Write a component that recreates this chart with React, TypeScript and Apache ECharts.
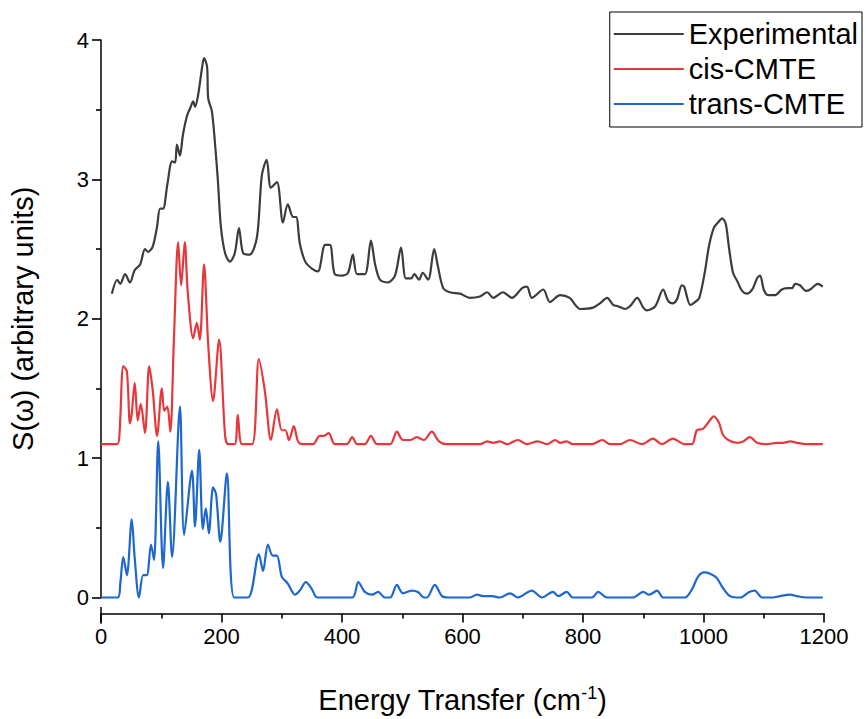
import React, { useEffect, useRef } from "react";
import * as echarts from "echarts";

const FONT = "'Liberation Sans', Arial, sans-serif";

const seriesNames = ["Experimental", "cis-CMTE", "trans-CMTE"];
const seriesColors = ["#3c3c3c", "#e8373a", "#1e66d0"];

const xTickValues = [0, 200, 400, 600, 800, 1000, 1200];

const expX = [18, 27, 32, 40, 48, 56, 65, 73, 78, 86, 93, 98, 103, 110, 118, 123, 126, 131, 136, 143, 148, 153, 156, 161, 168, 171, 176, 178, 184, 189, 194, 199, 206, 214, 222, 229, 236, 247, 259, 267, 275, 282, 292, 302, 310, 319, 324, 330, 339, 350, 360, 372, 380, 388, 400, 410, 418, 425, 438, 448, 455, 463, 476, 488, 498, 506, 515, 520, 528, 534, 543, 553, 559, 568, 579, 596, 612, 629, 641, 651, 667, 682, 699, 707, 715, 734, 745, 762, 778, 787, 795, 817, 828, 840, 850, 858, 870, 878, 890, 900, 906, 920, 933, 941, 949, 956, 964, 968, 978, 986, 993, 1002, 1009, 1017, 1024, 1031, 1037, 1042, 1049, 1056, 1064, 1072, 1081, 1089, 1094, 1100, 1107, 1119, 1130, 1139, 1147, 1152, 1160, 1170, 1177, 1190, 1198];
const expY = [2.18, 2.28, 2.25, 2.32, 2.26, 2.35, 2.39, 2.5, 2.48, 2.52, 2.66, 2.79, 2.79, 2.96, 3.13, 3.12, 3.25, 3.17, 3.32, 3.46, 3.51, 3.56, 3.52, 3.6, 3.81, 3.87, 3.81, 3.58, 3.49, 3.27, 2.99, 2.66, 2.47, 2.41, 2.47, 2.65, 2.47, 2.46, 2.59, 3.03, 3.14, 2.94, 2.98, 2.69, 2.82, 2.73, 2.73, 2.54, 2.41, 2.36, 2.34, 2.53, 2.53, 2.32, 2.31, 2.33, 2.46, 2.32, 2.32, 2.56, 2.39, 2.28, 2.26, 2.31, 2.51, 2.29, 2.29, 2.32, 2.28, 2.33, 2.28, 2.5, 2.38, 2.22, 2.19, 2.18, 2.15, 2.16, 2.19, 2.15, 2.19, 2.15, 2.22, 2.23, 2.15, 2.21, 2.12, 2.17, 2.15, 2.1, 2.07, 2.08, 2.11, 2.15, 2.1, 2.09, 2.07, 2.09, 2.15, 2.08, 2.06, 2.09, 2.21, 2.13, 2.11, 2.14, 2.24, 2.23, 2.1, 2.12, 2.15, 2.33, 2.52, 2.65, 2.69, 2.72, 2.68, 2.52, 2.33, 2.27, 2.2, 2.18, 2.21, 2.29, 2.31, 2.21, 2.17, 2.17, 2.21, 2.22, 2.22, 2.25, 2.24, 2.2, 2.21, 2.25, 2.23];

const cisX = [0, 27, 31, 37, 43, 48, 51, 56, 61, 66, 73, 80, 86, 93, 101, 105, 110, 115, 121, 128, 133, 139, 144, 153, 159, 164, 171, 178, 186, 196, 206, 211, 222, 227, 234, 251, 262, 272, 282, 292, 300, 306, 312, 320, 327, 334, 352, 363, 370, 378, 388, 408, 417, 425, 438, 448, 458, 480, 491, 501, 513, 524, 536, 549, 561, 574, 629, 641, 651, 662, 674, 692, 707, 725, 740, 754, 762, 773, 783, 815, 832, 845, 861, 878, 898, 916, 931, 949, 969, 981, 989, 999, 1007, 1017, 1026, 1032, 1041, 1056, 1066, 1077, 1089, 1105, 1122, 1132, 1144, 1155, 1172, 1198];
const cisY = [1.1, 1.1, 1.2, 1.66, 1.62, 1.25, 1.32, 1.54, 1.27, 1.39, 1.18, 1.66, 1.48, 1.16, 1.5, 1.34, 1.37, 1.19, 1.85, 2.55, 2.24, 2.55, 2.19, 1.86, 1.97, 1.85, 2.39, 1.81, 1.41, 1.85, 1.16, 1.1, 1.1, 1.31, 1.1, 1.1, 1.71, 1.48, 1.13, 1.35, 1.2, 1.2, 1.13, 1.23, 1.12, 1.1, 1.1, 1.16, 1.16, 1.18, 1.1, 1.1, 1.15, 1.1, 1.1, 1.16, 1.1, 1.1, 1.19, 1.13, 1.13, 1.15, 1.13, 1.19, 1.12, 1.1, 1.1, 1.12, 1.11, 1.12, 1.1, 1.13, 1.1, 1.12, 1.1, 1.13, 1.11, 1.12, 1.1, 1.1, 1.13, 1.1, 1.1, 1.13, 1.1, 1.14, 1.1, 1.14, 1.1, 1.1, 1.2, 1.21, 1.25, 1.3, 1.25, 1.17, 1.13, 1.11, 1.12, 1.15, 1.11, 1.1, 1.11, 1.11, 1.12, 1.11, 1.1, 1.1];

const transX = [0, 28, 32, 37, 43, 51, 56, 63, 70, 76, 83, 88, 95, 103, 111, 118, 131, 138, 151, 156, 163, 169, 174, 179, 186, 191, 198, 209, 221, 244, 262, 269, 277, 285, 292, 300, 310, 322, 330, 340, 350, 359, 417, 427, 438, 450, 460, 471, 480, 491, 501, 516, 526, 536, 541, 554, 566, 576, 612, 624, 634, 649, 662, 679, 692, 715, 732, 750, 759, 773, 783, 815, 825, 840, 883, 900, 910, 923, 933, 969, 981, 991, 1001, 1011, 1022, 1032, 1044, 1061, 1076, 1085, 1097, 1115, 1127, 1144, 1155, 1172, 1198];
const transY = [0, 0, 0.1, 0.29, 0.16, 0.56, 0.28, 0, 0.16, 0.16, 0.38, 0.27, 1.12, 0.21, 0.83, 0.29, 1.37, 0.45, 0.91, 0.51, 1.06, 0.49, 0.64, 0.46, 0.79, 0.74, 0.4, 0.89, 0, 0, 0.31, 0.19, 0.38, 0.3, 0.3, 0.15, 0.1, 0.02, 0.05, 0.11, 0.06, 0, 0, 0.11, 0.04, 0.02, 0.04, 0, 0, 0.09, 0.03, 0.05, 0.04, 0, 0, 0.09, 0.01, 0, 0, 0.02, 0.01, 0.01, 0, 0.03, 0, 0.05, 0, 0.04, 0.01, 0.04, 0, 0, 0.04, 0, 0, 0.04, 0.02, 0.05, 0, 0, 0.06, 0.15, 0.18, 0.17, 0.14, 0.07, 0.01, 0, 0.04, 0.05, 0, 0, 0.01, 0.02, 0.01, 0, 0];

const zip = (xs: number[], ys: number[]) => xs.map((x, i) => [x, ys[i]]);

const GRID_LEFT = 101;
const GRID_BOTTOM = 112;
const X_AXIS_OFFSET = 16;

export default function App() {
  const ref = useRef<HTMLDivElement>(null);
  useEffect(() => {
    document.body.style.margin = "0";
    const chart = echarts.init(ref.current!, null, { renderer: "svg" });
    const datasets = [zip(expX, expY), zip(cisX, cisY), zip(transX, transY)];
    const H = 719;
    const tickStyle = { color: "#000", width: 1.6 };
    chart.setOption({
      animation: false,
      backgroundColor: "#fff",
      textStyle: { fontFamily: FONT },
      grid: { left: GRID_LEFT, right: 42, top: 40, bottom: GRID_BOTTOM, containLabel: false },
      graphic: [
        {
          type: "line",
          shape: { x1: GRID_LEFT, y1: H - GRID_BOTTOM, x2: GRID_LEFT, y2: H - GRID_BOTTOM + X_AXIS_OFFSET + 0.75 },
          style: { stroke: "#000", lineWidth: 1.5 },
          silent: true,
        },
      ],
      legend: {
        orient: "vertical",
        right: 4,
        top: 12,
        icon: "rect",
        itemWidth: 70,
        itemHeight: 2,
        itemGap: 1,
        padding: [5, 4, 6, 4],
        borderColor: "#000",
        borderWidth: 1,
        borderRadius: 0,
        textStyle: { fontSize: 29, color: "#000", fontFamily: FONT, lineHeight: 34 },
        data: seriesNames,
      },
      xAxis: {
        type: "value",
        min: 0,
        max: 1200,
        interval: 200,
        offset: X_AXIS_OFFSET,
        axisLine: { onZero: false, lineStyle: { color: "#000", width: 1.5 } },
        axisTick: { length: 9, lineStyle: tickStyle },
        minorTick: { show: true, splitNumber: 2, length: 5, lineStyle: tickStyle },
        splitLine: { show: false },
        minorSplitLine: { show: false },
        axisLabel: { fontSize: 22, color: "#000", margin: 12, fontFamily: FONT, customValues: xTickValues, formatter: (v: number) => String(v) },
        name: "{a|Energy Transfer (cm}{s|-1}{a|)}",
        nameLocation: "middle",
        nameGap: 70,
        nameTextStyle: {
          rich: {
            a: { fontSize: 29, color: "#000", fontFamily: FONT },
            s: { fontSize: 18, color: "#000", fontFamily: FONT, padding: [0, 0, 14, 0] },
          },
        },
      },
      yAxis: {
        type: "value",
        min: 0,
        max: 4,
        interval: 1,
        axisLine: { show: true, onZero: false, lineStyle: { color: "#000", width: 1.5 } },
        axisTick: { show: true, length: 9, lineStyle: tickStyle },
        minorTick: { show: true, splitNumber: 2, length: 5, lineStyle: tickStyle },
        splitLine: { show: false },
        minorSplitLine: { show: false },
        axisLabel: { fontSize: 22, color: "#000", margin: 12, fontFamily: FONT },
        name: "S(ω) (arbitrary units)",
        nameLocation: "middle",
        nameGap: 64,
        nameTextStyle: { fontSize: 29, color: "#000", fontFamily: FONT },
      },
      series: seriesNames.map((name, i) => ({
        name,
        type: "line",
        data: datasets[i],
        symbol: "none",
        showSymbol: false,
        smooth: 0.3,
        clip: false,
        lineStyle: { color: seriesColors[i], width: 2.2 },
        itemStyle: { color: seriesColors[i] },
      })),
    });
    return () => chart.dispose();
  }, []);
  return <div ref={ref} style={{ width: 866, height: 719 }} />;
}
